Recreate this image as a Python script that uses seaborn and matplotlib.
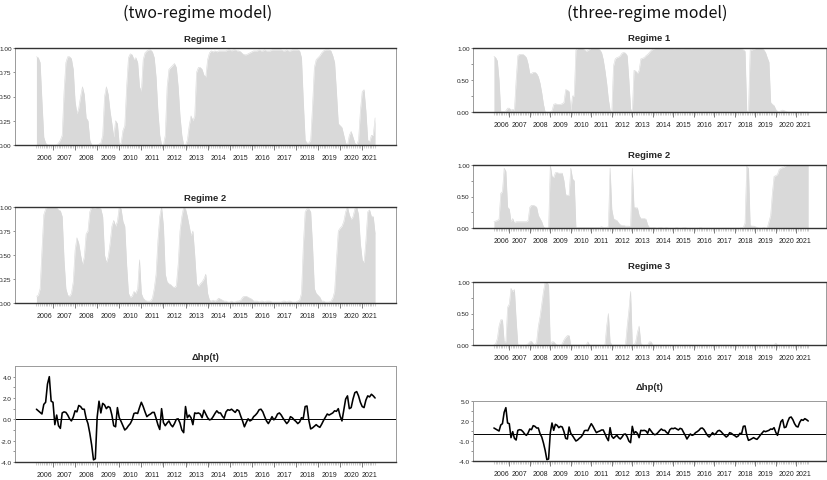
import numpy as np
import pandas as pd
import matplotlib
matplotlib.use("Agg")
import matplotlib.pyplot as plt
import seaborn as sns

# ---------------- data (monthly, 2006M04 .. 2021M08) ----------------
dates = pd.date_range("2006-04-01", periods=185, freq="MS")
years = list(range(2006, 2022))

dhp = [0.95, 0.8, 0.65, 0.5, 1.4, 1.6, 3.3, 4.0, 1.7,
       1.6, -0.5, 0.4, -0.6, -0.85, 0.6, 0.7, 0.65, 0.4, 0.05, -0.15, 0.2,
       0.8, 0.7, 1.3, 1.2, 0.95, 0.95, 0.1, -0.4, -1.3, -2.4, -3.8, -3.7,
       0.2, 1.7, 0.6, 1.5, 1.35, 1.0, 1.2, 1.1, 0.4, -0.6, -0.7, 1.1,
       0.15, -0.2, -0.6, -1.0, -0.85, -0.6, -0.4, -0.05, 0.55, 0.6, 0.55, 1.1,
       1.6, 1.2, 0.7, 0.25, 0.4, 0.5, 0.65, 0.65, 0.1, -0.5, -0.95, 1.0,
       -0.3, -0.6, -0.35, -0.15, -0.5, -0.7, -0.4, 0.0, 0.05, -0.35, -1.0, -1.25,
       1.2, 0.15, 0.4, 0.15, -0.5, 0.6, 0.55, 0.6, 0.5, 0.15, 0.85, 0.5,
       0.15, -0.05, 0.0, 0.25, 0.55, 0.8, 0.6, 0.6, 0.3, 0.1, 0.7, 0.9,
       0.85, 0.95, 0.8, 0.65, 0.9, 0.8, 0.3, -0.15, -0.7, -0.3, 0.05, -0.15,
       -0.05, 0.25, 0.4, 0.6, 0.9, 0.95, 0.7, 0.25, -0.15, -0.4, -0.1, 0.25,
       -0.05, 0.15, 0.5, 0.6, 0.4, 0.1, -0.15, -0.4, -0.2, 0.25, 0.15, -0.05,
       -0.2, -0.4, -0.25, 0.15, 0.1, 1.2, 1.25, -0.1, -0.9, -0.8, -0.65, -0.5,
       -0.65, -0.75, -0.45, -0.1, 0.2, 0.5, 0.4, 0.5, 0.6, 0.8, 0.75, 1.0,
       0.3, -0.15, 0.9, 1.9, 2.2, 1.0, 1.1, 1.9, 2.5, 2.6, 2.2, 1.6,
       1.2, 1.1, 1.8, 2.2, 2.1, 2.35, 2.2, 2.0]

two_r1 = [0.91, 0.90, 0.85, 0.45, 0.08, 0.02, 0.0, 0.0, 0.0,
          0.0, 0.0, 0.0, 0.02, 0.05, 0.1, 0.55, 0.85, 0.91, 0.91, 0.89, 0.78,
          0.45, 0.32, 0.38, 0.5, 0.6, 0.52, 0.28, 0.25, 0.05, 0.0, 0.0, 0.0,
          0.0, 0.01, 0.02, 0.1, 0.5, 0.6, 0.52, 0.35, 0.22, 0.08, 0.25, 0.22,
          0.0, 0.02, 0.15, 0.2, 0.6, 0.9, 0.94, 0.93, 0.88, 0.9, 0.85, 0.6,
          0.55, 0.88, 0.95, 0.97, 0.98, 0.98, 0.96, 0.9, 0.7, 0.35, 0.1, 0.0,
          0.0, 0.1, 0.6, 0.78, 0.8, 0.82, 0.84, 0.8, 0.6, 0.3, 0.1, 0.0,
          0.0, 0.05, 0.2, 0.3, 0.25, 0.3, 0.75, 0.8, 0.8, 0.78, 0.72, 0.7,
          0.88, 0.95, 0.97, 0.96, 0.97, 0.96, 0.97, 0.97, 0.97, 0.97, 0.97, 0.98,
          0.98, 0.97, 0.98, 0.98, 0.97, 0.97, 0.96, 0.94, 0.93, 0.93, 0.94, 0.95,
          0.96, 0.97, 0.97, 0.97, 0.98, 0.97, 0.97, 0.98, 0.97, 0.97, 0.97, 0.98,
          0.98, 0.98, 0.98, 0.98, 0.98, 0.97, 0.97, 0.98, 0.97, 0.97, 0.98, 0.98,
          0.98, 0.98, 0.97, 0.9, 0.45, 0.05, 0.02, 0.02, 0.05, 0.4, 0.8, 0.88,
          0.9, 0.92, 0.95, 0.97, 0.98, 0.98, 0.98, 0.97, 0.92, 0.85, 0.55, 0.22,
          0.2, 0.18, 0.1, 0.02, 0.0, 0.1, 0.14, 0.08, 0.02, 0.0, 0.05, 0.35,
          0.55, 0.57, 0.35, 0.05, 0.03, 0.1, 0.1, 0.28]

two_r2 = [0.07, 0.08, 0.15, 0.55, 0.92, 0.98, 1.0, 1.0, 1.0,
          1.0, 1.0, 0.99, 0.97, 0.96, 0.9, 0.45, 0.15, 0.08, 0.07, 0.1, 0.22,
          0.55, 0.68, 0.62, 0.5, 0.4, 0.48, 0.72, 0.75, 0.95, 1.0, 0.99, 0.99,
          1.0, 0.99, 0.98, 0.9, 0.5, 0.42, 0.48, 0.62, 0.8, 0.86, 0.8, 0.85,
          1.0, 0.98, 0.85, 0.8, 0.4, 0.1, 0.06, 0.07, 0.12, 0.1, 0.15, 0.45,
          0.1, 0.05, 0.03, 0.02, 0.02, 0.02, 0.05, 0.15, 0.3, 0.65, 0.9, 1.0,
          0.8, 0.3, 0.22, 0.2, 0.19, 0.17, 0.16, 0.18, 0.4, 0.75, 0.9, 1.0,
          0.98, 0.9, 0.8, 0.7, 0.75, 0.5, 0.2, 0.17, 0.2, 0.22, 0.25, 0.3,
          0.1, 0.03, 0.02, 0.03, 0.02, 0.03, 0.05, 0.04, 0.03, 0.02, 0.02, 0.01,
          0.01, 0.02, 0.01, 0.01, 0.02, 0.02, 0.03, 0.06, 0.07, 0.07, 0.06, 0.05,
          0.04, 0.02, 0.02, 0.02, 0.01, 0.02, 0.02, 0.01, 0.02, 0.02, 0.02, 0.01,
          0.01, 0.01, 0.01, 0.01, 0.01, 0.02, 0.02, 0.01, 0.02, 0.02, 0.01, 0.01,
          0.01, 0.02, 0.03, 0.1, 0.6, 0.95, 0.98, 0.98, 0.95, 0.6, 0.15, 0.1,
          0.08, 0.06, 0.02, 0.02, 0.01, 0.01, 0.01, 0.02, 0.05, 0.12, 0.45, 0.75,
          0.78, 0.8, 0.85, 0.95, 1.0, 0.92, 0.87, 0.9, 0.98, 1.0, 0.92, 0.62,
          0.45, 0.42, 0.65, 0.95, 0.97, 0.9, 0.9, 0.72]

three_r1 = [0.87, 0.85, 0.8, 0.5, 0.0, 0.01, 0.0, 0.02, 0.06,
            0.06, 0.03, 0.04, 0.03, 0.5, 0.88, 0.9, 0.9, 0.9, 0.88, 0.85, 0.75,
            0.6, 0.6, 0.62, 0.62, 0.6, 0.55, 0.45, 0.3, 0.12, 0.0, 0.0, 0.0,
            0.0, 0.02, 0.12, 0.13, 0.12, 0.12, 0.12, 0.13, 0.15, 0.35, 0.34, 0.32,
            0.02, 0.25, 0.25, 0.97, 0.99, 1.0, 1.0, 0.99, 0.97, 0.95, 0.96, 0.98,
            1.0, 1.0, 1.0, 1.0, 0.99, 0.97, 0.93, 0.82, 0.65, 0.45, 0.2, 0.03,
            0.0, 0.72, 0.83, 0.85, 0.86, 0.88, 0.92, 0.93, 0.92, 0.88, 0.5, 0.05,
            0.0, 0.65, 0.64, 0.6, 0.65, 0.83, 0.84, 0.85, 0.88, 0.9, 0.93, 0.96,
            0.98, 0.99, 1.0, 1.0, 1.0, 0.99, 0.99, 1.0, 0.99, 0.99, 1.0, 1.0,
            0.99, 0.99, 1.0, 1.0, 0.99, 0.99, 0.99, 1.0, 1.0, 1.0, 0.99, 0.99,
            1.0, 1.0, 1.0, 1.0, 1.0, 1.0, 1.0, 1.0, 1.0, 1.0, 1.0, 1.0,
            1.0, 1.0, 1.0, 1.0, 1.0, 1.0, 1.0, 0.99, 1.0, 1.0, 1.0, 1.0,
            1.0, 1.0, 1.0, 0.99, 0.98, 0.97, 0.95, 0.02, 0.0, 0.97, 0.97, 0.98,
            0.99, 1.0, 1.0, 1.0, 0.99, 0.97, 0.93, 0.85, 0.78, 0.15, 0.12, 0.1,
            0.04, 0.01, 0.0, 0.02, 0.03, 0.02, 0.01, 0.0, 0.0, 0.0, 0.0, 0.0,
            0.0, 0.0, 0.0, 0.0, 0.0, 0.0, 0.0, 0.0]

three_r2 = [0.1, 0.11, 0.12, 0.14, 0.55, 0.58, 0.95, 0.9, 0.33,
            0.3, 0.1, 0.15, 0.08, 0.1, 0.1, 0.1, 0.1, 0.1, 0.1, 0.1, 0.12,
            0.33, 0.36, 0.36, 0.35, 0.33, 0.2, 0.15, 0.1, 0.02, 0.0, 0.0, 0.0,
            1.0, 0.82, 0.8, 0.88, 0.88, 0.87, 0.87, 0.87, 0.75, 0.53, 0.52, 0.52,
            0.95, 0.78, 0.75, 0.0, 0.01, 0.01, 0.01, 0.01, 0.01, 0.01, 0.01, 0.01,
            0.01, 0.01, 0.01, 0.01, 0.01, 0.01, 0.02, 0.01, 0.01, 0.01, 0.02, 0.95,
            0.3, 0.15, 0.13, 0.12, 0.08, 0.05, 0.04, 0.04, 0.03, 0.03, 0.03, 0.02,
            0.95, 0.33, 0.32, 0.32, 0.2, 0.15, 0.15, 0.15, 0.14, 0.05, 0.01, 0.01,
            0.01, 0.01, 0.0, 0.0, 0.01, 0.01, 0.0, 0.0, 0.01, 0.0, 0.0, 0.0,
            0.0, 0.0, 0.01, 0.0, 0.0, 0.0, 0.01, 0.01, 0.0, 0.0, 0.0, 0.0,
            0.0, 0.0, 0.0, 0.0, 0.01, 0.0, 0.0, 0.0, 0.0, 0.0, 0.0, 0.0,
            0.0, 0.0, 0.0, 0.0, 0.0, 0.0, 0.0, 0.0, 0.0, 0.0, 0.0, 0.0,
            0.0, 0.0, 0.0, 0.0, 0.01, 0.01, 0.08, 0.98, 0.95, 0.04, 0.03, 0.03,
            0.02, 0.01, 0.0, 0.0, 0.0, 0.01, 0.0, 0.0, 0.1, 0.2, 0.55, 0.82,
            0.83, 0.85, 0.93, 0.95, 0.96, 0.97, 0.99, 1.0, 1.0, 1.0, 1.0, 1.0,
            1.0, 1.0, 1.0, 1.0, 1.0, 1.0, 1.0, 1.0]

three_r3 = [0.0, 0.02, 0.1, 0.3, 0.4, 0.4, 0.05, 0.05, 0.6,
            0.65, 0.9, 0.85, 0.88, 0.4, 0.0, 0.0, 0.0, 0.0, 0.0, 0.0, 0.02,
            0.05, 0.06, 0.02, 0.0, 0.05, 0.3, 0.45, 0.65, 0.85, 1.0, 1.0, 0.95,
            0.0, 0.05, 0.05, 0.02, 0.0, 0.0, 0.0, 0.02, 0.08, 0.12, 0.15, 0.15,
            0.0, 0.0, 0.0, 0.0, 0.0, 0.0, 0.0, 0.0, 0.0, 0.0, 0.05, 0.0,
            0.0, 0.0, 0.0, 0.0, 0.0, 0.0, 0.0, 0.0, 0.0, 0.3, 0.5, 0.05,
            0.0, 0.0, 0.0, 0.0, 0.0, 0.0, 0.0, 0.0, 0.0, 0.3, 0.55, 0.85,
            0.02, 0.0, 0.05, 0.2, 0.3, 0.02, 0.0, 0.0, 0.0, 0.0, 0.05, 0.05,
            0.0, 0.0, 0.0, 0.0, 0.0, 0.0, 0.0, 0.0, 0.0, 0.0, 0.0, 0.0,
            0.0, 0.0, 0.0, 0.0, 0.0, 0.0, 0.0, 0.0, 0.0, 0.0, 0.0, 0.0,
            0.0, 0.0, 0.0, 0.0, 0.0, 0.0, 0.0, 0.0, 0.0, 0.0, 0.0, 0.0,
            0.0, 0.0, 0.0, 0.0, 0.0, 0.0, 0.0, 0.0, 0.0, 0.0, 0.0, 0.0,
            0.0, 0.0, 0.0, 0.0, 0.0, 0.0, 0.0, 0.0, 0.0, 0.0, 0.0, 0.0,
            0.0, 0.0, 0.0, 0.0, 0.0, 0.0, 0.0, 0.0, 0.0, 0.0, 0.0, 0.0,
            0.03, 0.0, 0.0, 0.0, 0.0, 0.0, 0.0, 0.0, 0.0, 0.0, 0.0, 0.0,
            0.0, 0.0, 0.0, 0.0, 0.0, 0.0, 0.0, 0.0]

# ---------------- styling ----------------
sns.set_theme(style="white")
plt.rcParams['font.family'] = ['Liberation Sans Narrow', 'Liberation Sans', 'DejaVu Sans']

FILL = "#d9d9d9"
W, H = 827, 481
fig = plt.figure(figsize=(W / 100, H / 100), dpi=100)

t = (dates.year + (dates.month - 1) / 12.0).values
year_bounds = [y for y in years if y > 2006]
label_pos = [max(y, t[0]) + (min(y + 1, t[-1] + 1 / 12) - max(y, t[0])) / 2 for y in years]


def add_ax(x1, y1, x2, y2):
    return fig.add_axes([x1 / W, 1 - y2 / H, (x2 - x1) / W, (y2 - y1) / H])


def style_x(ax, xlim):
    ax.set_xlim(*xlim)
    ax.set_xticks(year_bounds)
    ax.set_xticklabels([])
    ax.set_xticks(t, minor=True)
    ax.tick_params(axis='x', which='major', bottom=True, length=3.4, width=0.6,
                   color='#666666', direction='out')
    ax.tick_params(axis='x', which='minor', bottom=True, length=1.8, width=0.4,
                   color='#aaaaaa', direction='out')
    sec = ax.secondary_xaxis('bottom')
    sec.set_xticks(label_pos, labels=[str(y) for y in years])
    sec.tick_params(length=0, pad=6.5, labelsize=5.0, labelcolor='#222222')
    for s in sec.spines.values():
        s.set_visible(False)
    ax.set_xlabel('')
    ax.set_ylabel('')


def style_spines(ax, top_dark=True):
    for side in ('left', 'right'):
        ax.spines[side].set_color('#9a9a9a')
        ax.spines[side].set_linewidth(0.7)
    ax.spines['bottom'].set_color('#333333')
    ax.spines['bottom'].set_linewidth(1.0)
    ax.spines['top'].set_color('#333333' if top_dark else '#9a9a9a')
    ax.spines['top'].set_linewidth(1.0 if top_dark else 0.7)


def style_y(ax):
    ax.tick_params(axis='y', which='both', left=True, length=1.6, width=0.5,
                   color='#666666', labelsize=4.6, pad=0.8, labelcolor='#222222')


def prob_panel(box, values, title, xlim, yticks, ylabels, yminor, pad):
    ax = add_ax(*box)
    df = pd.DataFrame({'t': t, 'p': values})
    ax.fill_between(df['t'], 0, df['p'], color=FILL, linewidth=0, zorder=1)
    sns.lineplot(data=df, x='t', y='p', ax=ax, color=FILL, linewidth=0.4, zorder=1)
    ax.set_ylim(0, 1)
    ax.set_yticks(yticks, labels=ylabels)
    ax.set_yticks(yminor, minor=True)
    style_y(ax)
    style_x(ax, xlim)
    style_spines(ax, True)
    ax.set_title(title, fontsize=6.8, fontweight='bold', pad=pad)
    return ax


def dhp_panel(box, title, xlim, yticks, ylabels, yminor, pad):
    ax = add_ax(*box)
    df = pd.DataFrame({'t': t, 'v': dhp})
    sns.lineplot(data=df, x='t', y='v', ax=ax, color='black', linewidth=1.15, zorder=3)
    ax.axhline(0, color='black', linewidth=0.7, zorder=2)
    ax.set_ylim(-4, 5)
    ax.set_yticks(yticks, labels=ylabels)
    ax.set_yticks(yminor, minor=True)
    style_y(ax)
    style_x(ax, xlim)
    style_spines(ax, False)
    ax.set_title(title, fontsize=6.8, fontweight='bold', pad=pad)
    return ax


XL = (2005.28, 2022.53)
XR = (2005.23, 2022.45)
pt4 = [0.0, 0.25, 0.5, 0.75, 1.0]
lab4 = ['0.00', '0.25', '0.50', '0.75', '1.00']

# left column: two-regime model
LX0, LX1 = 15, 396
prob_panel((LX0, 49, LX1, 146), two_r1, 'Regime 1', XL, pt4, lab4, [], 5)
prob_panel((LX0, 208, LX1, 304), two_r2, 'Regime 2', XL, pt4, lab4, [], 5)
dhp_panel((LX0, 367, LX1, 463), 'Δhp(t)', XL, [-4, -2, 0, 2, 4],
          ['-4.0', '-2.0', '0.0', '2.0', '4.0'], [-3, -1, 1, 3], 5)

# right column: three-regime model
pt3 = [0.0, 0.5, 1.0]
lab3 = ['0.00', '0.50', '1.00']
prob_panel((473, 49, 826, 113), three_r1, 'Regime 1', XR, pt3, lab3, [0.25, 0.75], 6)
prob_panel((473, 166, 826, 229), three_r2, 'Regime 2', XR, pt3, lab3, [0.25, 0.75], 6)
prob_panel((473, 283, 826, 346), three_r3, 'Regime 3', XR, pt3, lab3, [0.25, 0.75], 10)
dhp_panel((473, 402, 826, 462), 'Δhp(t)', XR, [-4, -1, 2, 5],
          ['-4.0', '-1.0', '2.0', '5.0'], [-2.5, 0.5, 3.5], 9)

fig.text(198 / W, 1 - 13 / H, '(two-regime model)', ha='center', va='center',
         fontsize=11.5, family=['Noto Sans CJK KR', 'DejaVu Sans'], color='#111111')
fig.text(647 / W, 1 - 13 / H, '(three-regime model)', ha='center', va='center',
         fontsize=11.5, family=['Noto Sans CJK KR', 'DejaVu Sans'], color='#111111')

fig.savefig('out.png', dpi=100)
